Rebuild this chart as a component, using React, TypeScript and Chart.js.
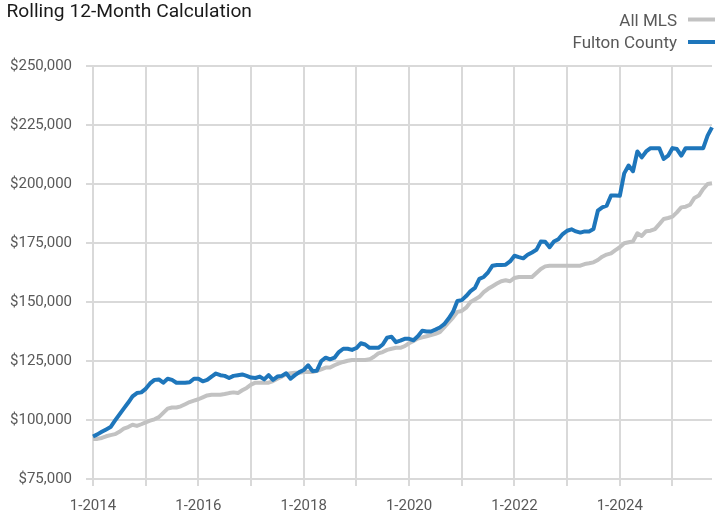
import React, { useEffect, useRef } from 'react';
import { Chart, registerables } from 'chart.js';

Chart.register(...registerables);

const START_YEAR = 2014;

const seriesNames = ['All MLS', 'Fulton County'];
const seriesColors = ['#c2c2c2', '#1e76bb'];

const allMLS = [
  92000, 92000, 92400, 93100, 93600, 94000, 95000, 96300, 97000, 98000, 97500, 98200,
  99000, 99700, 100300, 101200, 103000, 104800, 105300, 105300, 105800, 106700, 107600, 108200,
  108800, 109600, 110400, 110700, 110700, 110700, 111000, 111400, 111700, 111400, 112600, 113600,
  115000, 115800, 115800, 115800, 115800, 116500, 117500, 118400, 119400, 119800, 120000, 120000,
  120300, 120300, 120300, 120800, 121500, 122200, 122200, 123200, 124000, 124600, 125100, 125400,
  125400, 125400, 125400, 125700, 126800, 128200, 128800, 129700, 130200, 130600, 130600, 131300,
  132500, 133500, 134500, 135000, 135500, 136000, 136500, 137200, 139200, 141300, 143400, 145800,
  146200, 147600, 150000, 151100, 152200, 154200, 155600, 156700, 157800, 158800, 159200, 158800,
  160200, 160600, 160600, 160600, 160600, 162300, 164000, 165100, 165400, 165400, 165400, 165400,
  165400, 165400, 165400, 165400, 166100, 166400, 166800, 167800, 169200, 170100, 170600, 172000,
  173200, 174900, 175300, 175700, 179100, 178000, 180000, 180200, 180900, 183000, 185200, 185600,
  186200, 188000, 190100, 190400, 191200, 194100, 195100, 197900, 200000, 200300,
];

const fultonCounty = [
  93000, 93900, 95000, 96000, 97000, 99700, 102300, 104800, 107300, 110000, 111400, 111700,
  113200, 115500, 117000, 117200, 115800, 117500, 117000, 115800, 115800, 115800, 116000, 117500,
  117500, 116400, 117000, 118400, 119700, 119000, 118700, 117800, 118700, 119000, 119300, 118700,
  118000, 117800, 118400, 117200, 119000, 117000, 118400, 118700, 119800, 117500, 119000, 120300,
  121200, 123200, 120800, 120900, 125000, 126400, 125700, 126400, 128800, 130200, 130200, 129700,
  130500, 132500, 132000, 130600, 130600, 130600, 132000, 134900, 135300, 133000, 133600, 134400,
  134400, 133800, 135500, 137800, 137500, 137500, 138300, 139200, 140600, 143000, 145800, 150400,
  150800, 152500, 154600, 156000, 159800, 160600, 162600, 165400, 165700, 165700, 165800, 167200,
  169600, 169000, 168500, 170000, 171000, 172100, 175600, 175500, 173200, 175600, 176600, 178800,
  180200, 180800, 179900, 179400, 179900, 179900, 180900, 188700, 190100, 190800, 195100, 195100,
  195000, 204500, 207800, 205400, 213800, 211300, 213800, 215200, 215200, 215200, 210600, 212000,
  215200, 214800, 212000, 215200, 215200, 215200, 215200, 215200, 220500, 224000,
];

// category labels "m-yyyy", one per month
const monthLabels: string[] = allMLS.map(
  (_, i) => `${(i % 12) + 1}-${START_YEAR + Math.floor(i / 12)}`
);

const Y_MIN = 75000;
const Y_MAX = 250000;
const Y_STEP = 25000;

const FONT = 'Roboto, "Liberation Sans", Arial, sans-serif';
const GRID = '#d9d9d9';
const LABEL = '#595959';

const titleText = 'Rolling 12-Month Calculation';

const overlayPlugin = {
  id: 'titleAndLegend',
  afterDraw(chart: any) {
    const ctx = chart.ctx;
    ctx.save();
    // title
    ctx.font = `19.2px ${FONT}`;
    ctx.fillStyle = '#1a1a1a';
    ctx.textAlign = 'left';
    ctx.textBaseline = 'alphabetic';
    ctx.fillText(titleText, 6.5, 16.7);
    // stacked legend, text right-aligned with line swatch on the right
    ctx.font = `17px ${FONT}`;
    ctx.textAlign = 'right';
    chart.data.datasets.forEach((ds: any, row: number) => {
      const baseline = 25.5 + row * 22.5;
      ctx.fillStyle = LABEL;
      ctx.fillText(ds.label, 677, baseline);
      ctx.strokeStyle = ds.borderColor;
      ctx.lineWidth = 4;
      ctx.beginPath();
      ctx.moveTo(688, baseline - 6);
      ctx.lineTo(716, baseline - 6);
      ctx.stroke();
    });
    ctx.restore();
  },
};

export default function App() {
  const canvasRef = useRef<HTMLCanvasElement | null>(null);

  useEffect(() => {
    if (!canvasRef.current) return;
    const gridColor = (c: any) => (c.index % 12 === 0 ? GRID : 'rgba(0,0,0,0)');
    const chart = new Chart(canvasRef.current, {
      type: 'line',
      data: {
        labels: monthLabels,
        datasets: [
          {
            label: seriesNames[0],
            data: allMLS,
            borderColor: seriesColors[0],
            backgroundColor: seriesColors[0],
            borderWidth: 4,
            pointRadius: 0,
            tension: 0,
            borderJoinStyle: 'round',
            order: 1,
          },
          {
            label: seriesNames[1],
            data: fultonCounty,
            borderColor: seriesColors[1],
            backgroundColor: seriesColors[1],
            borderWidth: 4,
            pointRadius: 0,
            tension: 0,
            borderJoinStyle: 'round',
            order: 0,
          },
        ],
      },
      options: {
        responsive: false,
        animation: false,
        layout: { padding: { top: 66, right: 3, bottom: 0, left: 0 } },
        plugins: {
          legend: { display: false },
          title: { display: false },
          tooltip: { enabled: false },
        },
        scales: {
          x: {
            type: 'category',
            offset: false,
            afterFit: (s: any) => {
              s.height = 35;
              s.paddingLeft = 0;
              s.paddingRight = 0;
            },
            grid: {
              color: gridColor,
              tickColor: gridColor,
              lineWidth: 2,
              tickLength: 7,
              drawOnChartArea: true,
            },
            border: { display: false },
            ticks: {
              autoSkip: false,
              maxRotation: 0,
              minRotation: 0,
              padding: 11,
              color: LABEL,
              font: { family: FONT, size: 15 },
              callback: (_v: any, i: number) => (i % 24 === 0 ? monthLabels[i] : ''),
            },
          },
          y: {
            min: Y_MIN,
            max: Y_MAX,
            afterFit: (s: any) => {
              s.width = 93;
            },
            grid: { color: GRID, lineWidth: 2, tickLength: 7 },
            border: { display: false },
            ticks: {
              stepSize: Y_STEP,
              padding: 14,
              color: LABEL,
              font: { family: FONT, size: 15 },
              callback: (v: any) => '$' + Number(v).toLocaleString('en-US'),
            },
          },
        },
      },
      plugins: [overlayPlugin],
    });
    return () => chart.destroy();
  }, []);

  return (
    <div style={{ position: 'absolute', left: 0, top: 0, width: 715, height: 514, background: '#fff' }}>
      <canvas ref={canvasRef} width={715} height={514} style={{ display: 'block' }} />
    </div>
  );
}
